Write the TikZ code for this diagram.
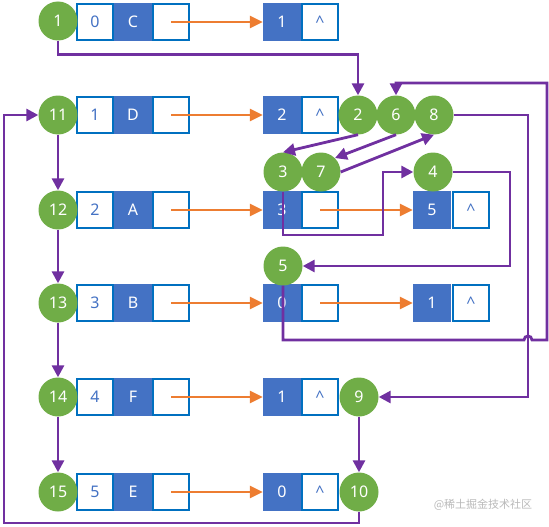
\documentclass[tikz,border=0pt]{standalone}
\usepackage{fontspec}
\setmainfont{Noto Sans}
\newfontfamily\cjkfont{Noto Sans CJK SC}
\usetikzlibrary{arrows.meta}

\definecolor{ballgreen}{HTML}{70AD47}
\definecolor{keyblue}{HTML}{4472C4}
\definecolor{cellline}{HTML}{0070C0}
\definecolor{linkorange}{HTML}{ED7D31}
\definecolor{walkpurple}{HTML}{7030A0}

\tikzset{
  cell/.style={draw=cellline, line width=2.2pt, fill=white, text=keyblue, minimum width=35.8pt, minimum height=35.8pt, inner sep=0pt, font=\fontsize{16}{18}\selectfont},
  keycell/.style={fill=keyblue, text=white, minimum width=38pt, minimum height=38pt, inner sep=0pt, font=\fontsize{16}{18}\selectfont},
  ball/.style={circle, fill=ballgreen, text=white, minimum size=39pt, inner sep=0pt, font=\fontsize{16}{18}\selectfont},
  link/.style={draw=linkorange, line width=2.8pt, -{Triangle[length=13pt,width=12pt]}},
  walk/.style={draw=walkpurple, line width=2.8pt, -{Triangle[length=12pt,width=12pt]}},
}

\begin{document}
\begin{tikzpicture}[x=1pt,y=-1pt]
\useasboundingbox (0,0) rectangle (549,527);

%Left column: key cells
\node[keycell] (ka) at (133,22) {C};
\node[keycell] (kb) at (133,115) {D};
\node[keycell] (kc) at (133,210) {A};
\node[keycell] (kd) at (133,303) {B};
\node[keycell] (ke) at (133,397) {F};
\node[keycell] (kf) at (133,492) {E};
%Left column: index and pointer cells
\node[cell] (ia) at (95,22) {0};
\node[cell] (ib) at (95,115) {1};
\node[cell] (ic) at (95,210) {2};
\node[cell] (id) at (95,303) {3};
\node[cell] (ie) at (95,397) {4};
\node[cell] (if) at (95,492) {5};
\node[cell] (pa) at (171,22) {};
\node[cell] (pb) at (171,115) {};
\node[cell] (pc) at (171,210) {};
\node[cell] (pd) at (171,303) {};
\node[cell] (pe) at (171,397) {};
\node[cell] (pf) at (171,492) {};

%Adjacency cells
\node[keycell] (va) at (282,22) {1};
\node[keycell] (vb) at (282,115) {2};
\node[keycell] (vc) at (282,210) {3};
\node[keycell] (vd) at (282,303) {0};
\node[keycell] (ve) at (282,397) {1};
\node[keycell] (vf) at (282,492) {0};
\node[cell] (qa) at (320,22) {\textasciicircum};
\node[cell] (qb) at (320,115) {\textasciicircum};
\node[cell] (qc) at (320,210) {};
\node[cell] (qd) at (320,303) {};
\node[cell] (qe) at (320,397) {\textasciicircum};
\node[cell] (qf) at (320,492) {\textasciicircum};
\node[keycell] (wc) at (432,210) {5};
\node[keycell] (wd) at (432,303) {1};
\node[cell] (rc) at (471,210) {\textasciicircum};
\node[cell] (rd) at (471,303) {\textasciicircum};

%Step circles
\node[ball] (n1) at (58,21) {1};
\node[ball] (n11) at (58,115) {11};
\node[ball] (n12) at (58,210) {12};
\node[ball] (n13) at (58,303) {13};
\node[ball] (n14) at (58,397) {14};
\node[ball] (n15) at (58,492) {15};
\node[ball] (n2) at (358,115) {2};
\node[ball] (n6) at (396,115) {6};
\node[ball] (n8) at (434,115) {8};
\node[ball] (n3) at (283,172) {3};
\node[ball] (n7) at (321,172) {7};
\node[ball] (n4) at (433,172) {4};
\node[ball] (n5) at (283,266) {5};
\node[ball] (n9) at (359,397) {9};
\node[ball] (n10) at (359,492) {10};

%Pointer arrows
\draw[link] (pa.center) -- (va.west);
\draw[link] (pb.center) -- (vb.west);
\draw[link] (pc.center) -- (vc.west);
\draw[link] (pd.center) -- (vd.west);
\draw[link] (pe.center) -- (ve.west);
\draw[link] (pf.center) -- (vf.west);
\draw[link] (qc.center) -- (wc.west);
\draw[link] (qd.center) -- (wd.west);

%Visit order
\draw[walk] (n1.south) -- ++(0,14) -| (n2.north);
\draw[walk] (n2.south) -- (n3.north);
\draw[walk] (n3.south) |- (383,235) |- (n4.west);
\draw[walk] (n4.east) -- (510,172) |- (n5.east);
\draw[walk] (n5.south) |- (524,340) .. controls (524,334.7) and (532,334.7) .. (532,340) -- (547,340) |- (396,83) -- (n6.north);
\draw[walk] (n6.south) -- (n7.45);
\draw[walk] (n7.east) -- (n8.south);
\draw[walk] (n8.east) -- (528,115) |- (n9.east);
\draw[walk] (n9) -- (n10);
\draw[walk] (n10.south) |- (4,523) |- (n11.west);
\draw[walk] (n11) -- (n12);
\draw[walk] (n12) -- (n13);
\draw[walk] (n13) -- (n14);
\draw[walk] (n14) -- (n15);

%Watermark
\node[text=gray!55, font=\cjkfont\fontsize{11}{13}\selectfont] (mark) at (483,505) {@稀土掘金技术社区};

\end{tikzpicture}
\end{document}
